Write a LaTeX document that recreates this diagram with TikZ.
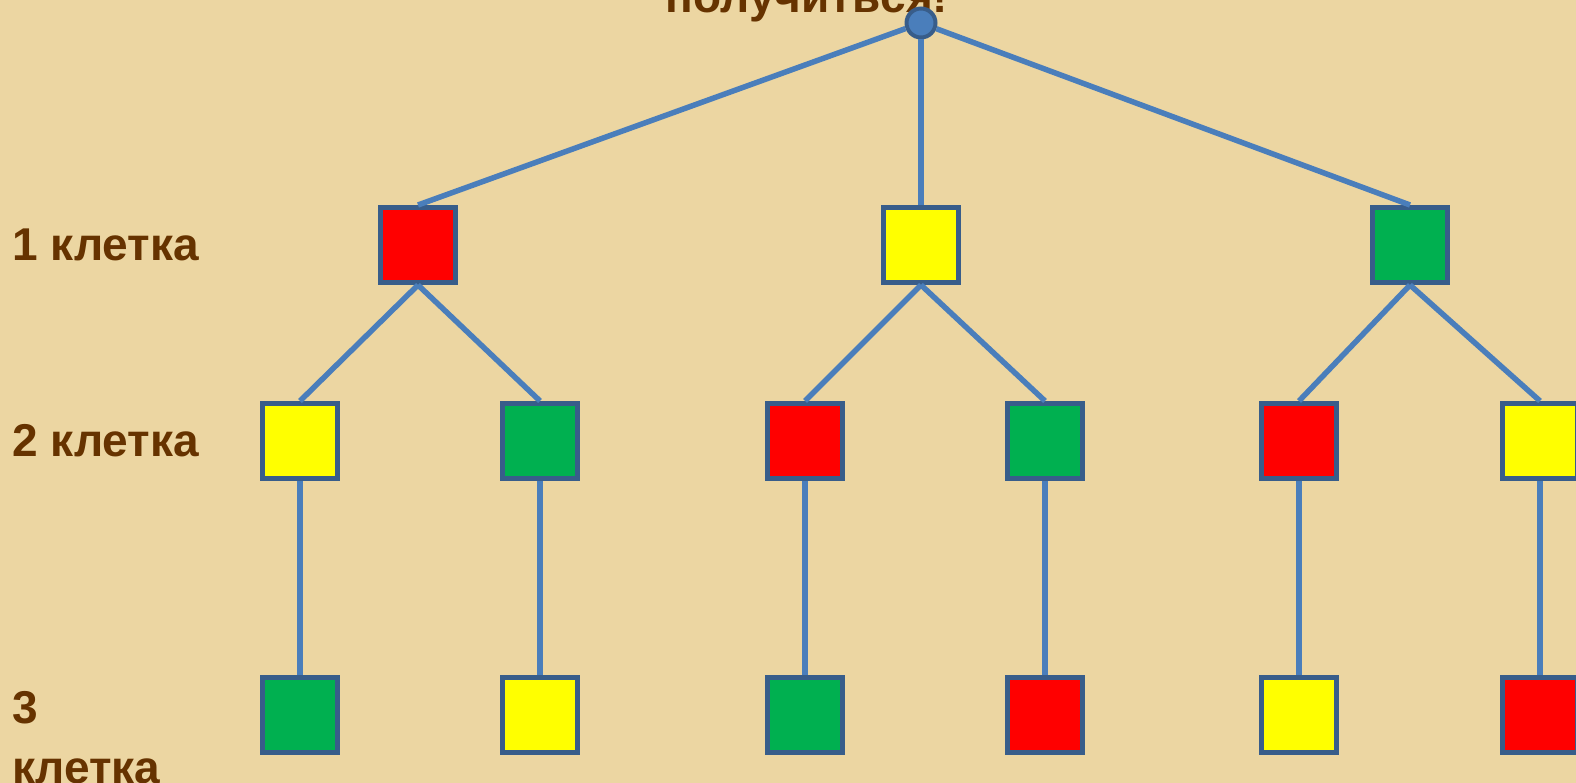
\documentclass[tikz,border=0pt]{standalone}
\usepackage{fontspec}
\setmainfont{Liberation Sans}
\usepackage{xcolor}
\usepackage{tikz}
\usetikzlibrary{positioning}

\definecolor{papyrus}{RGB}{236,214,162}
\definecolor{brownlbl}{RGB}{102,51,0}
\definecolor{edgeblue}{RGB}{74,126,187}
\definecolor{boxline}{RGB}{56,93,138}
\definecolor{cellred}{RGB}{255,0,0}
\definecolor{cellyellow}{RGB}{255,255,0}
\definecolor{cellgreen}{RGB}{0,176,80}

\begin{document}
\begin{tikzpicture}[
  x=1pt, y=1pt,
  cell/.style={rectangle, draw=boxline, line width=5pt, minimum size=75pt, inner sep=0pt},
  rootdot/.style={circle, draw=boxline, fill=edgeblue, line width=4pt, minimum size=29pt, inner sep=0pt},
  lbl/.style={text=brownlbl, font=\fontsize{46}{60}\selectfont\bfseries, inner sep=0pt},
  edge/.style={edgeblue, line width=5.5pt}
]

% Page and background
\useasboundingbox (0,0) rectangle (1576,-783);
\clip (0,0) rectangle (1576,-783);
\fill[papyrus] (0,0) rectangle (1576,-783);

% Title (cut at the top)
\node[lbl, anchor=base] (title) at (807,-13) {получиться!};

% Root
\node[rootdot] (root) at (921,-23) {};

% Level 1
\node[cell, fill=cellred] (r1) at (418,-245) {};
\node[cell, fill=cellyellow] (y1) at (921,-245) {};
\node[cell, fill=cellgreen] (g1) at (1410,-245) {};

% Level 2
\node[cell, fill=cellyellow] (ry2) at (300,-441) {};
\node[cell, fill=cellgreen] (rg2) at (540,-441) {};
\node[cell, fill=cellred] (yr2) at (805,-441) {};
\node[cell, fill=cellgreen] (yg2) at (1045,-441) {};
\node[cell, fill=cellred] (gr2) at (1299,-441) {};
\node[cell, fill=cellyellow] (gy2) at (1540,-441) {};

% Level 3
\node[cell, fill=cellgreen, below=194pt of ry2] (ryg3) {};
\node[cell, fill=cellyellow, below=194pt of rg2] (rgy3) {};
\node[cell, fill=cellgreen, below=194pt of yr2] (yrg3) {};
\node[cell, fill=cellred, below=194pt of yg2] (ygr3) {};
\node[cell, fill=cellyellow, below=194pt of gr2] (gry3) {};
\node[cell, fill=cellred, below=194pt of gy2] (gyr3) {};

% Row labels
\node[lbl, anchor=west] (row1) at (12,-245) {1 клетка};
\node[lbl, anchor=west] (row2) at (12,-441) {2 клетка};
\node[lbl, anchor=north west, align=left] (row3) at (12,-691) {3\\клетка};

% Edges
\draw[edge] (root) -- (r1.north);
\draw[edge] (root) -- (y1.north);
\draw[edge] (root) -- (g1.north);
\draw[edge] (r1.south) -- (ry2.north);
\draw[edge] (r1.south) -- (rg2.north);
\draw[edge] (y1.south) -- (yr2.north);
\draw[edge] (y1.south) -- (yg2.north);
\draw[edge] (g1.south) -- (gr2.north);
\draw[edge] (g1.south) -- (gy2.north);
\draw[edge] (ry2) -- (ryg3);
\draw[edge] (rg2) -- (rgy3);
\draw[edge] (yr2) -- (yrg3);
\draw[edge] (yg2) -- (ygr3);
\draw[edge] (gr2) -- (gry3);
\draw[edge] (gy2) -- (gyr3);

\end{tikzpicture}
\end{document}
